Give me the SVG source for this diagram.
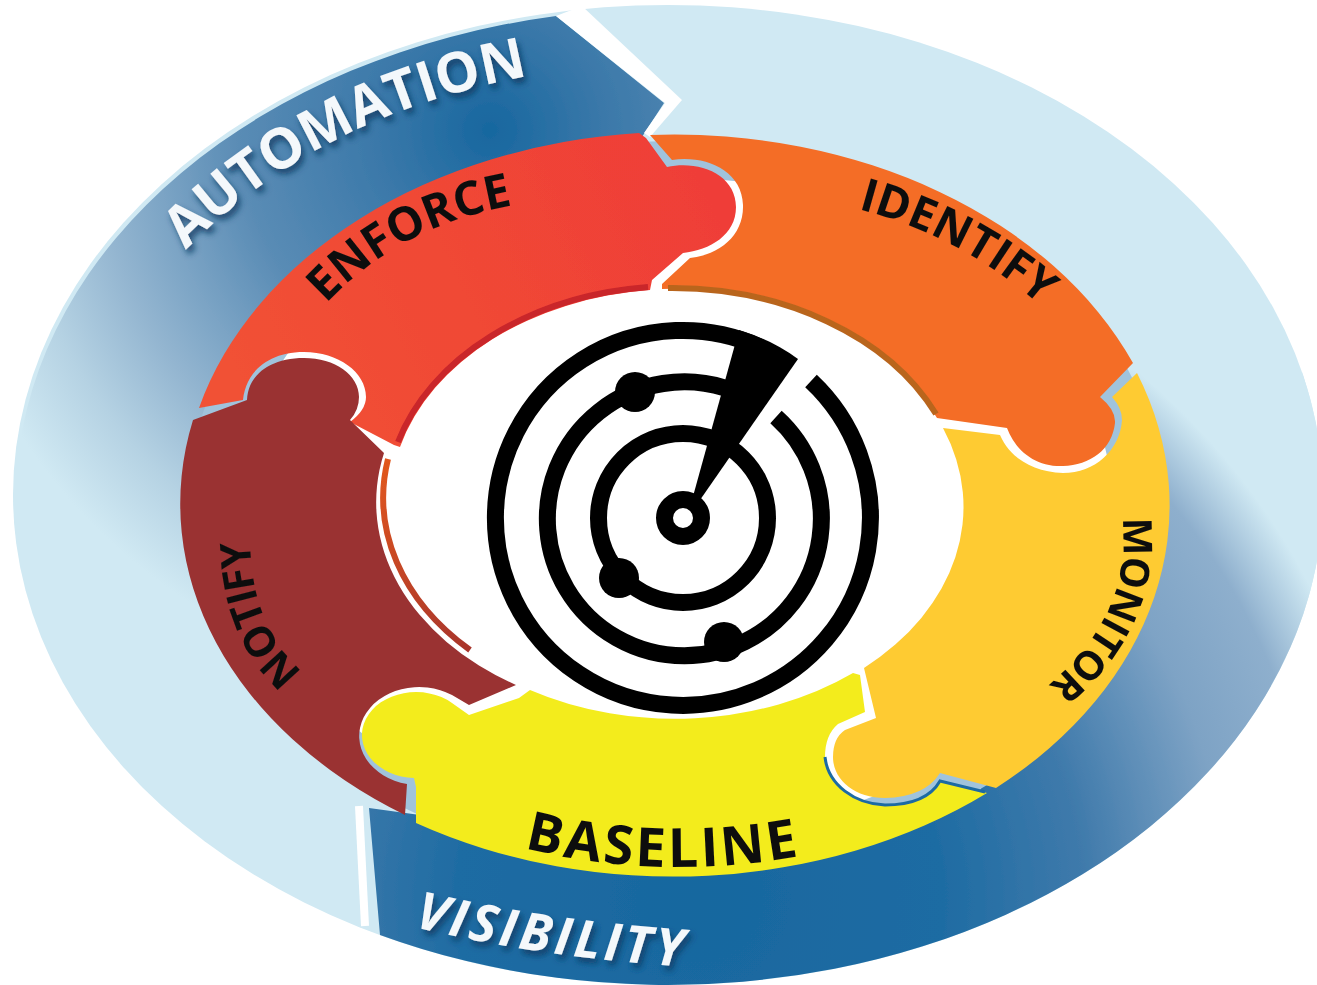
<svg xmlns="http://www.w3.org/2000/svg" width="1317" height="985" viewBox="0 0 1317 985">
<style>
.lbl{font-family:"Open Sans","Liberation Sans",sans-serif;font-weight:700;fill:#111}
.wl{font-family:"Open Sans","Liberation Sans",sans-serif;font-weight:700;fill:#f4f8fb;filter:url(#sh)}
.ring{fill:none;stroke:#000;stroke-width:17}
.dot{fill:#000}
.strip{fill:none;stroke-width:6}
</style>
<defs>
<radialGradient id="gA" gradientUnits="userSpaceOnUse" cx="490" cy="130" r="560">
<stop offset="0" stop-color="#17679f"/><stop offset=".2" stop-color="#3a78a9"/><stop offset=".45" stop-color="#5a8cb5"/><stop offset=".7" stop-color="#93b5d0"/><stop offset=".85" stop-color="#b5d2e3"/><stop offset="1" stop-color="#d0e9f3"/>
</radialGradient>
<radialGradient id="gV" gradientUnits="userSpaceOnUse" cx="700" cy="900" r="700">
<stop offset="0" stop-color="#17679f"/><stop offset=".35" stop-color="#1f6ca3"/><stop offset=".55" stop-color="#3f7aab"/><stop offset=".75" stop-color="#7ea3c5"/><stop offset=".88" stop-color="#8eafcd"/><stop offset=".98" stop-color="#d0e9f3"/>
</radialGradient>
<linearGradient id="gE" gradientUnits="userSpaceOnUse" x1="250" y1="400" x2="700" y2="180">
<stop offset="0" stop-color="#f15135"/><stop offset="1" stop-color="#ef3e37"/>
</linearGradient>
<linearGradient id="gS" gradientUnits="userSpaceOnUse" x1="386" y1="458" x2="470" y2="650">
<stop offset="0" stop-color="#e2581e"/><stop offset="1" stop-color="#a8352c"/>
</linearGradient>
<filter id="sh" x="-10%" y="-30%" width="120%" height="170%"><feDropShadow dx="3" dy="5" stdDeviation="3" flood-color="#0b3a60" flood-opacity=".85"/></filter>
<filter id="soft" x="0" y="0" width="100%" height="100%"><feGaussianBlur stdDeviation="0.7"/></filter>
<path id="pA" d="M186,250 Q 320,112 540,74"/>
<path id="pV" d="M414,927 Q 550,960 710,968"/>
<path id="pE" d="M326,304 Q 400,225 515,205"/>
<path id="pI" d="M858,209 Q 975,240 1058,322"/>
<path id="pM" d="M1122,518 Q 1134,620 1036,695"/>
<path id="pB" d="M524,848 Q 660,882 806,855"/>
<path id="pN" d="M303,672 Q 250,625 250,538"/>
</defs>
<rect width="1317" height="985" fill="#fff"/>
<g filter="url(#soft)">
<g id="backdrop">
<ellipse cx="668" cy="495" rx="655" ry="490" fill="#d0e9f3"/>
</g>
<g id="automation">
<path d="M17,470 A655,490 0 0 1 556,16 L664,103 L640,140 L400,300 L180,640 Z" fill="url(#gA)"/>
<path d="M556,16 L582,6 L682,100 L650,137 L644,133 L665,103 Z" fill="#fff"/>
<text class="wl" font-size="56"><textPath href="#pA">AUTOMATION</textPath></text>
</g>
<g id="visibility">
<path d="M369,808 L380,935 A655,490 0 0 0 1302,372 L1120,370 L1160,500 L980,790 L680,860 L420,815 Z" fill="url(#gV)"/>
<path d="M359,806 L365,926" fill="none" stroke="#fff" stroke-width="8"/>
<text class="wl" font-size="52" font-style="italic" letter-spacing="3.5"><textPath href="#pV">VISIBILITY</textPath></text>
</g>
<g id="gaps">
<ellipse cx="675" cy="505" rx="488" ry="364" fill="#a0c3dc"/>
<ellipse cx="675" cy="505" rx="437" ry="327" fill="#fff"/>
</g>
<g id="enforce">
<path d="M199,408 A497,372 0 0 1 639,133 L646,138 L667,167 C 700,160 736,175 736,207 C 736,235 710,250 683,253 L652,280 L650,290 A288,213 0 0 0 400,447 L394,445 L350,422 Q 366,410 366,397 C 366,372 338,352 304,352 C 268,352 246,372 243,400 Z" fill="url(#gE)"/>
<path class="strip" stroke="#c9252b" d="M648,287 A291,216 0 0 0 398,442"/>
<text class="lbl" font-size="47"><textPath href="#pE">ENFORCE</textPath></text>
</g>
<g id="identify">
<path d="M650,135 A497,372 0 0 1 1133,363 L1100,397 Q 1116,410 1115,423 C 1112,450 1090,465 1063,466 C 1035,467 1015,450 1007,428 L937,418 A288,213 0 0 0 662,289 L662,284 L690,258 C 720,255 744,235 743,205 C 742,170 705,155 672,160 Z" fill="#f46d26"/>
<path class="strip" stroke="#b9651f" d="M668,288 A290,215 0 0 1 936,414"/>
<text class="lbl" font-size="46"><textPath href="#pI">IDENTIFY</textPath></text>
</g>
<g id="baseline">
<path d="M530,690 A288,213 0 0 0 853,673 L860,675 L865,712 L838,724 Q 825,735 825,757 C 828,785 855,804 885,805 C 915,805 932,795 940,781 L987,793 A497,372 0 0 1 416,823 L416,787 L414,778 A54,43 0 1 1 452,703 L469,715 L519,698 Z" fill="#f3ec1f"/>
<path d="M825,757 C 828,785 855,804 885,805 C 915,805 932,795 940,781 L985,792" fill="none" stroke="#1d6ba3" stroke-width="3"/>
<text class="lbl" font-size="54" letter-spacing="3"><textPath href="#pB">BASELINE</textPath></text>
</g>
<g id="monitor">
<path d="M1137,373 A497,372 0 0 1 996,788 L940,773 Q 925,797 885,798 C 855,798 833,780 833,757 Q 833,738 845,730 L876,718 L864,668 A288,213 0 0 0 943,428 L1000,435 C 1010,458 1033,472 1063,473 C 1095,473 1120,450 1122,420 Q 1122,408 1112,397 Z" fill="#fecb33"/>
<text class="lbl" font-size="40" letter-spacing="-1"><textPath href="#pM">MONITOR</textPath></text>
</g>
<g id="notify">
<path d="M193,420 L247,400 C 248,375 270,358 304,358 C 335,358 359,375 359,397 Q 359,410 350,420 L384,453 A288,213 0 0 0 516,685 L469,705 L452,695 A60,49 0 1 0 407,784 L405,815 A497,372 0 0 1 193,420 Z" fill="#9a3232"/>
<path class="strip" stroke="url(#gS)" d="M388,459 A288,213 0 0 0 470,650"/>
<text class="lbl" font-size="42" letter-spacing="-2"><textPath href="#pN">NOTIFY</textPath></text>
</g>
<g id="radar">
<circle class="ring" cx="683" cy="518" r="18.5"/>
<circle class="ring" cx="683" cy="518" r="84.5"/>
<path class="ring" d="M776,417 A137,137 0 1 1 725,388"/>
<path class="ring" d="M811,381 A187.5,187.5 0 1 1 760,347"/>
<path class="dot" d="M692,500 L739,330 A196,196 0 0 1 798,359 L700,500 Z"/>
<circle class="dot" cx="635" cy="392" r="20"/>
<circle class="dot" cx="619" cy="578" r="20"/>
<circle class="dot" cx="724" cy="642" r="20"/>
</g>
</g>
</svg>
